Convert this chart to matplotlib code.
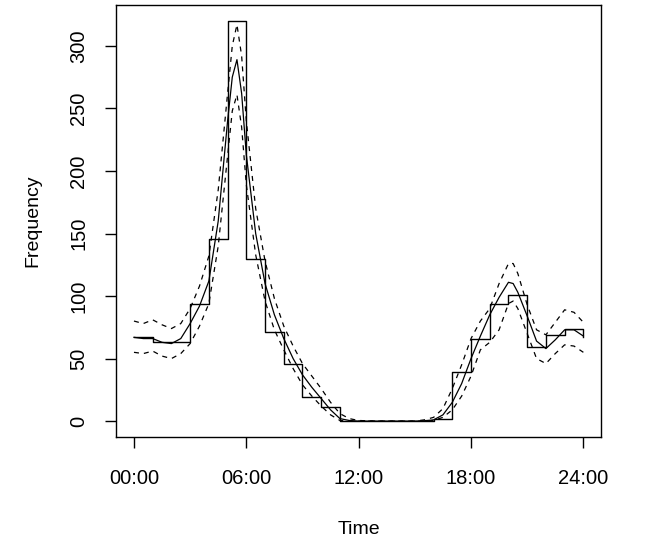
import numpy as np
import matplotlib.pyplot as plt

plt.rcParams['font.family'] = ['Liberation Sans', 'DejaVu Sans']

# hourly counts (step plot, value at each hour start, last one = 24:00)
hours = list(range(25))
counts = [67, 63, 63, 94, 146, 320, 130, 71, 46, 19, 11, 0, 0, 0, 0, 0,
          2, 39, 66, 94, 101, 59, 69, 74, 67]

# smooth fit and its band
fit_t = [0, 0.5, 1, 1.5, 2, 2.5, 3, 3.5, 4, 4.5, 5, 5.25, 5.5, 5.75, 6,
         6.5, 7, 7.5, 8, 8.5, 9, 9.5, 10, 10.5, 11, 11.5, 12, 13, 14, 15,
         15.5, 16, 16.5, 17, 17.5, 18, 18.5, 19, 19.5, 20, 20.25, 20.5,
         21, 21.5, 22, 22.5, 23, 23.5, 24]
fit = [67, 66, 66, 63, 62, 66, 78, 92, 112, 160, 240, 275, 289, 262, 213,
       150, 110, 85, 66, 50, 37, 27, 18, 9, 2, 0.5, 0, 0, 0, 0,
       0.3, 1, 5, 15, 30, 50, 68, 85, 99, 111, 110, 103,
       84, 64, 58, 65, 73, 73, 68]
upper = [80, 78, 81, 77, 74, 78, 90, 108, 132, 185, 262, 300, 317, 292, 240,
         170, 128, 98, 76, 60, 46, 36, 26, 15, 6, 2, 0.5, 0, 0, 0,
         1, 3, 10, 26, 45, 66, 80, 90, 110, 126, 126, 118,
         93, 73, 69, 79, 89, 87, 79]
lower = [55, 54, 56, 52, 50, 54, 62, 76, 94, 140, 212, 248, 261, 235, 189,
         133, 96, 73, 57, 42, 29, 20, 12, 5, 0.5, 0, 0, 0, 0, 0,
         0, 0.5, 3, 9, 20, 36, 57, 63, 73, 94, 96, 90,
         70, 50, 46, 54, 61, 60, 55]

tick_pos = [0, 6, 12, 18, 24]
tick_lab = ["00:00", "06:00", "12:00", "18:00", "24:00"]

fig = plt.figure(figsize=(6.48, 5.41), dpi=100)
ax = fig.add_axes([0.179, 0.192, 0.749, 0.799])

ax.step(hours, counts, where='post', color='black', lw=1.0)
ax.plot(fit_t, fit, color='black', lw=0.9)
ax.plot(fit_t, upper, color='black', lw=0.9, dashes=(4, 4))
ax.plot(fit_t, lower, color='black', lw=0.9, dashes=(4, 4))

ax.set_xlim(-0.96, 24.96)
ax.set_ylim(-12.8, 332.8)
ax.set_xticks(tick_pos)
ax.set_xticklabels(tick_lab)
ax.set_yticks([0, 50, 100, 150, 200, 250, 300])
ax.tick_params(axis='both', direction='out', length=8, width=1.0,
               labelsize=14.5)
ax.tick_params(axis='x', pad=15)
ax.tick_params(axis='y', pad=12)
for lab in ax.get_yticklabels():
    lab.set_rotation(90)
    lab.set_va('center')
for s in ax.spines.values():
    s.set_linewidth(1.0)

ax.set_xlabel("Time", fontsize=14, labelpad=24)
ax.set_ylabel("Frequency", fontsize=14, labelpad=20)

fig.savefig("out.png", dpi=100)
